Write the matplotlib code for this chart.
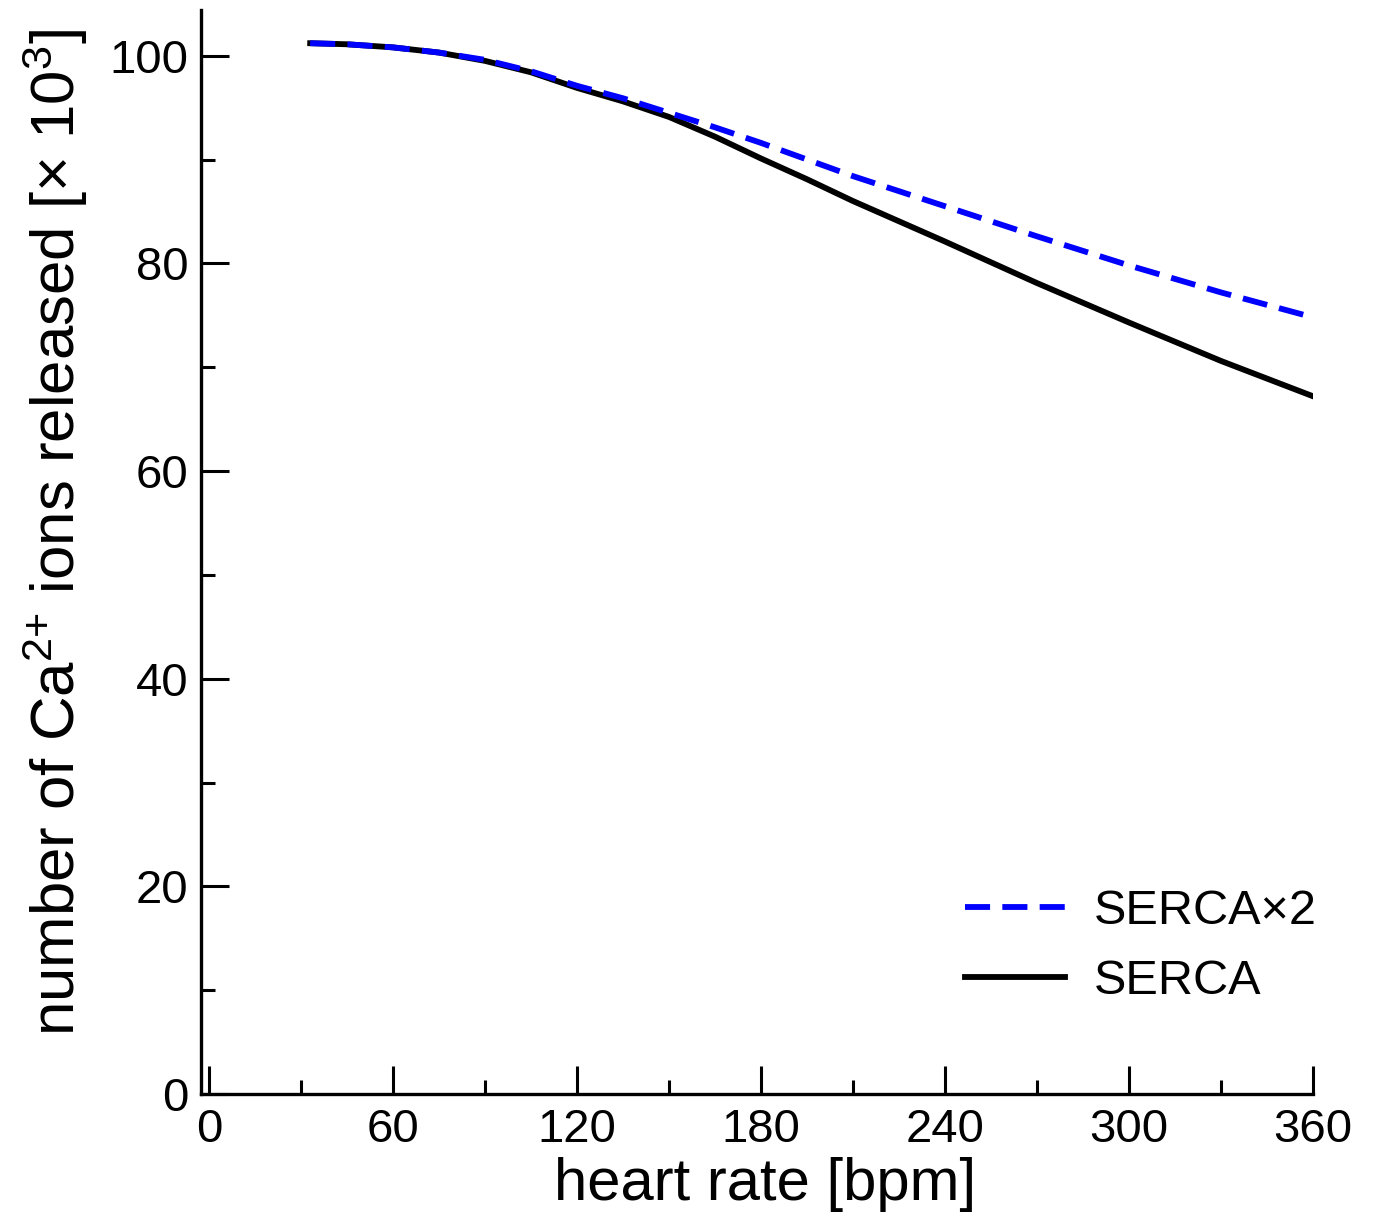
import matplotlib
matplotlib.use("Agg")
import matplotlib.pyplot as plt
from matplotlib.ticker import MultipleLocator

heart_rate = [33, 45, 60, 75, 90, 105, 120, 135, 150, 165, 180, 195, 210, 240, 270, 300, 330, 360]
serca = [101.2, 101.1, 100.8, 100.3, 99.5, 98.4, 96.9, 95.6, 94.1, 92.2, 90.1, 88.1, 86.0, 82.1, 78.1, 74.3, 70.6, 67.2]
serca_x2 = [101.2, 101.1, 100.8, 100.3, 99.6, 98.5, 97.1, 95.9, 94.5, 93.1, 91.6, 90.0, 88.4, 85.5, 82.6, 79.8, 77.2, 74.8]
x_ticks = [0, 60, 120, 180, 240, 300, 360]
y_ticks = [0, 20, 40, 60, 80, 100]

plt.rcParams['font.family'] = ['Liberation Sans', 'DejaVu Sans']
plt.rcParams['mathtext.fontset'] = 'custom'
plt.rcParams['mathtext.rm'] = 'Liberation Sans'
plt.rcParams['mathtext.it'] = 'Liberation Sans'

W, H = 1373, 1226
fig = plt.figure(figsize=(W / 100, H / 100), dpi=100)
ax = fig.add_axes([201 / W, 1 - 1094 / H, (1313 - 201) / W, (1094 - 10) / H])

ax.plot(heart_rate, serca_x2, color='#0000ff', lw=4.2, dashes=(4.3, 2.1), label='SERCA×2', zorder=3)
ax.plot(heart_rate, serca, color='black', lw=4.2, label='SERCA', zorder=2)

ax.set_xlim(-2.6, 360)
ax.set_ylim(0, 104.4)
ax.set_xticks(x_ticks)
ax.set_yticks(y_ticks)
ax.xaxis.set_minor_locator(MultipleLocator(30))
ax.yaxis.set_minor_locator(MultipleLocator(10))

for s in ['top', 'right']:
    ax.spines[s].set_visible(False)
for s in ['left', 'bottom']:
    ax.spines[s].set_linewidth(2.4)

ax.tick_params(which='major', direction='in', length=20, width=2.2, labelsize=34)
ax.tick_params(which='minor', direction='in', length=10, width=2.2)
ax.tick_params(axis='y', which='major', pad=9)
ax.tick_params(axis='x', which='major', pad=10)

ax.set_xlabel('heart rate [bpm]', fontsize=43)
ax.xaxis.set_label_coords(0.507, -0.058)
ax.set_ylabel('number of Ca$^{2{+}}$ ions released [× 10$^{3}$]', fontsize=44.5)
ax.yaxis.set_label_coords(-0.0998, 0.5185)

leg = ax.legend(loc='center left', bbox_to_anchor=(0.687, 0.136), frameon=False,
                fontsize=35, handlelength=2.05, handletextpad=0.6,
                labelspacing=0.52, borderpad=0, borderaxespad=0)

fig.savefig('out.png', dpi=100)
